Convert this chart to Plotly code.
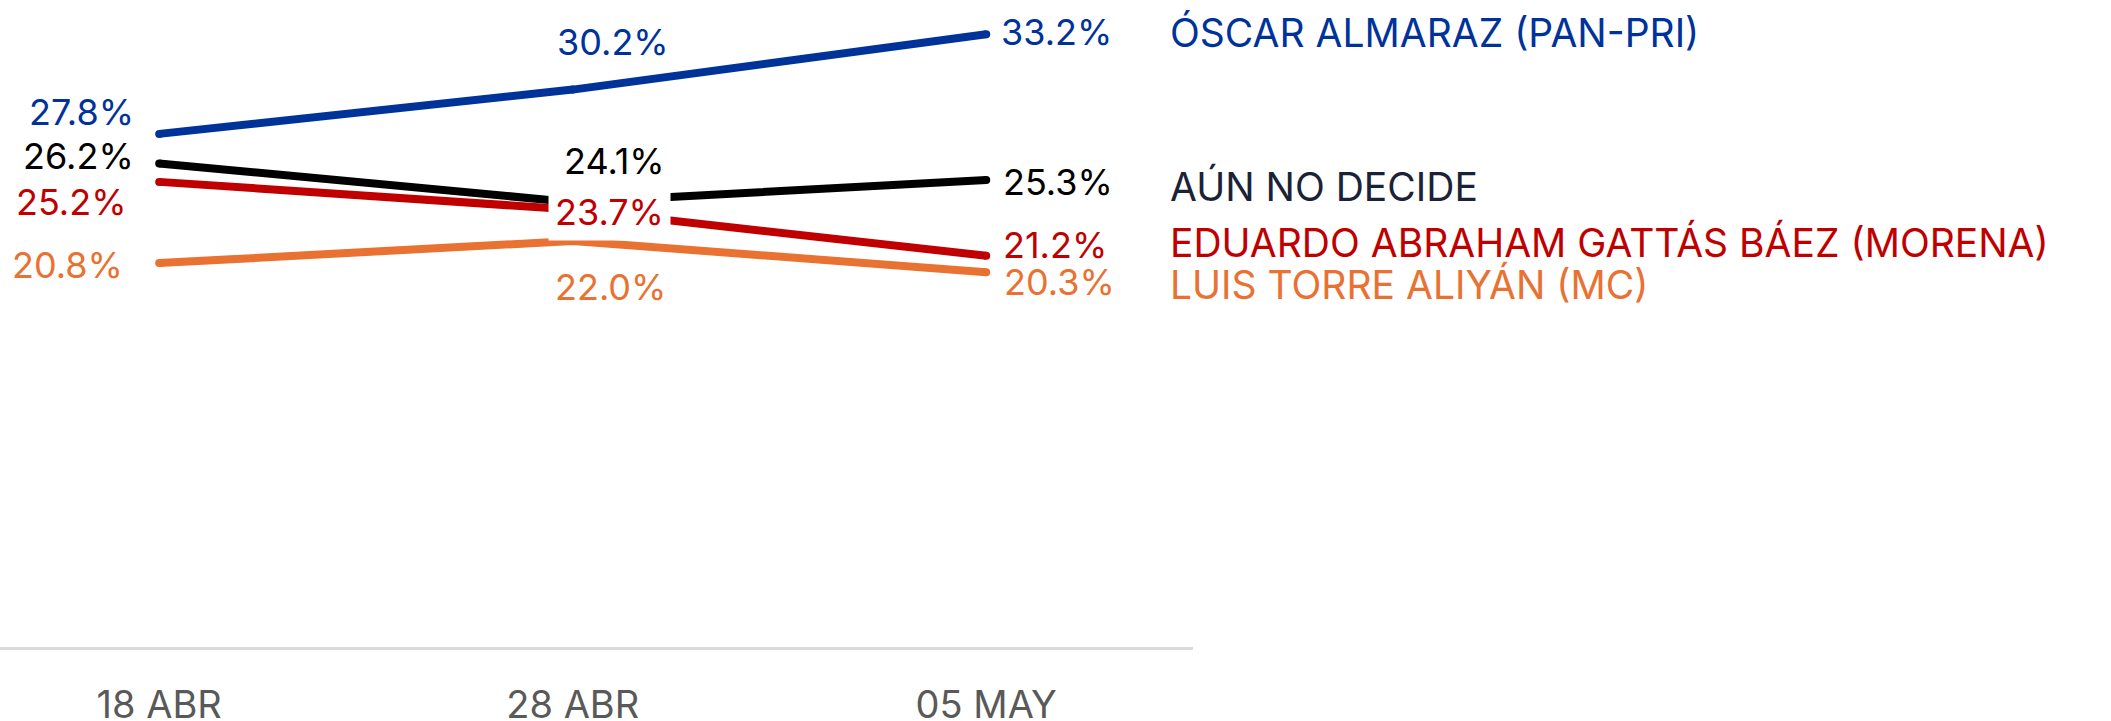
import plotly.graph_objects as go

categories = ["18 ABR", "28 ABR", "05 MAY"]
series_names = [
    "ÓSCAR ALMARAZ (PAN-PRI)",
    "AÚN NO DECIDE",
    "EDUARDO ABRAHAM GATTÁS BÁEZ (MORENA)",
    "LUIS TORRE ALIYÁN (MC)",
]
almaraz = [27.8, 30.2, 33.2]
no_decide = [26.2, 24.1, 25.3]
gattas = [25.2, 23.7, 21.2]
torre = [20.8, 22.0, 20.3]
series_values = [almaraz, no_decide, gattas, torre]

# styles
line_colors = ["#00339A", "#000000", "#C00000", "#E97132"]
label_colors = ["#00339A", "#000000", "#C00000", "#E97132"]
name_colors = ["#00339A", "#1B2238", "#C00000", "#E97132"]
FONT = "Inter"
FS = 36
FS_NAME = 39
FS_TICK = 38

# label offsets (xshift, yshift) per series per point
offsets = [
    [(-23, 22), (40, 48), (13, 2)],
    [(-23, 7), (42, 41), (15, -2)],
    [(-30, -20), (37, -2), (15, 11)],
    [(-34, -2), (38, -46), (16, -10)],
]
anchors = ["right", "center", "left"]
name_yshift = [2, -6, 13, -12]

fig = go.Figure()
for vals, col in zip(series_values, line_colors):
    fig.add_trace(go.Scatter(
        x=categories, y=vals, mode="lines+markers",
        line=dict(color=col, width=8),
        marker=dict(color=col, size=8, line=dict(width=0)),
        hoverinfo="skip", showlegend=False,
    ))

for s, vals in enumerate(series_values):
    for i, v in enumerate(vals):
        dx, dy = offsets[s][i]
        extra = {}
        if s == 2 and i == 1:
            extra = dict(bgcolor="white", borderpad=6)
        fig.add_annotation(
            x=categories[i], y=v, xref="x", yref="y",
            text=f"{v:.1f}%", showarrow=False,
            xanchor=anchors[i], yanchor="middle",
            xshift=dx, yshift=dy,
            font=dict(family=FONT, size=FS, color=label_colors[s]),
            **extra,
        )
    fig.add_annotation(
        x=categories[-1], y=vals[-1], xref="x", yref="y",
        text=series_names[s], showarrow=False,
        xanchor="left", yanchor="middle",
        xshift=182, yshift=name_yshift[s],
        font=dict(family=FONT, size=FS_NAME, color=name_colors[s]),
    )

fig.update_layout(
    width=2111, height=721,
    margin=dict(l=0, r=2111 - 1193, t=1, b=74, autoexpand=False),
    paper_bgcolor="white", plot_bgcolor="white",
    xaxis=dict(
        type="category", range=[-0.385, 2.5],
        showgrid=False, zeroline=False, automargin=False,
        showline=True, linecolor="#D9D9D9", linewidth=2.5,
        ticks="", ticklabelstandoff=23,
        tickfont=dict(family=FONT, size=FS_TICK, color="#595959"),
    ),
    yaxis=dict(range=[0, 35], visible=False, showgrid=False, zeroline=False,
               automargin=False),
)

fig.write_html(
    "out.html",
    config={"displayModeBar": False},
    post_script="document.body.style.margin='0';document.body.style.overflow='hidden';",
)
